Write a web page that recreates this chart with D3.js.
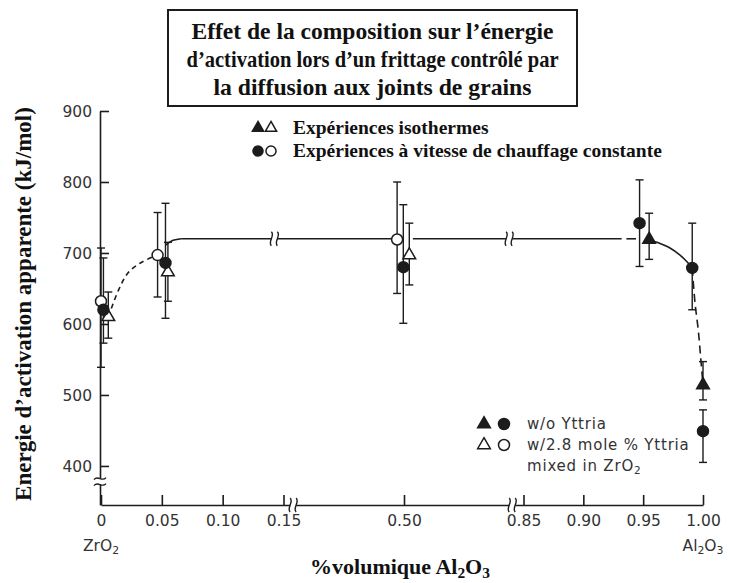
<!DOCTYPE html>
<html>
<head>
<meta charset="utf-8">
<script src="https://cdn.jsdelivr.net/npm/d3@7"></script>
<style>
  body { margin: 0; background: #fff; }
  svg { display: block; }
</style>
</head>
<body>
<svg width="731" height="583"></svg>
<script>
// x positions are fractions of Al2O3, y in kJ/mol
var xTicks = [0, 0.05, 0.10, 0.15, 0.50, 0.85, 0.90, 0.95, 1.00];
var xTickLabels = ["0", "0.05", "0.10", "0.15", "0.50", "0.85", "0.90", "0.95", "1.00"];
var yTicks = [400, 500, 600, 700, 800, 900];

// w/o Yttria, constant heating rate
var filledCircles = [
  {x: 0.002, y: 620, lo: 573, hi: 693},
  {x: 0.053, y: 686, lo: 608, hi: 770},
  {x: 0.498, y: 680, lo: 601, hi: 768},
  {x: 0.947, y: 742, lo: 681, hi: 803},
  {x: 0.991, y: 679, lo: 620, hi: 742},
  {x: 1.000, y: 449, lo: 405, hi: 479}
];
// w/2.8 mole % Yttria, constant heating rate
var openCircles = [
  {x: 0.000, y: 632, lo: 539, hi: 707},
  {x: 0.0465, y: 697, lo: 638, hi: 757},
  {x: 0.480, y: 719, lo: 643, hi: 800}
];
// w/o Yttria, isothermal
var filledTriangles = [
  {x: 0.955, y: 719, lo: 691, hi: 756},
  {x: 1.000, y: 514, lo: 493, hi: 547}
];
// w/2.8 mole % Yttria, isothermal
var openTriangles = [
  {x: 0.006, y: 610, lo: 580, hi: 645},
  {x: 0.055, y: 673, lo: 632, hi: 715},
  {x: 0.5155, y: 697, lo: 655, hi: 742}
];

// guide lines drawn through the points
var dashLeft = [[0.006, 610], [0.0145, 648], [0.0227, 673], [0.0335, 687], [0.046, 697]];
var solidLeft = [[0.053, 711], [0.058, 717], [0.066, 720]];
var plateauLevel = 720;
var plateauSegments = [[0.066, 0.468], [0.526, 0.932]];
var plateauBreaks = [0.1425, 0.808];
var dashShort = [[0.936, 720], [0.944, 720]];
var rightCurve = [[0.955, 719], [0.96, 716], [0.9724, 707], [0.9808, 697], [0.9864, 688], [0.991, 679]];
var rightDrop = [[0.991, 679], [0.9933, 630], [0.996, 592], [0.998, 554], [1.0, 514]];
var axisBreaksX = [0.178, 0.817];
var axisBreakY = 378;

var svg = d3.select("svg");
var ink = "#1c1c1c";

var x = d3.scaleLinear()
    .domain([0, 0.15, 0.50, 0.85, 1.00])
    .range([101, 283.5, 404, 523.5, 703]);
var y = d3.scaleLinear()
    .domain([345, 900])
    .range([505, 111]);

// title box
svg.append("rect")
    .attr("x", 168).attr("y", 10)
    .attr("width", 409).attr("height", 96)
    .attr("fill", "#fff").attr("stroke", ink).attr("stroke-width", 2);

var titleLines = ["Effet de la composition sur l\u2019\u00e9nergie",
                  "d\u2019activation lors d\u2019un frittage contr\u00f4l\u00e9 par",
                  "la diffusion aux joints de grains"];
var titleWidths = [362, 372, 318];
svg.append("g").selectAll("text")
    .data(titleLines)
  .enter().append("text")
    .attr("x", 372.5)
    .attr("y", function(d, i) { return 39 + i * 28; })
    .attr("text-anchor", "middle")
    .attr("textLength", function(d, i) { return titleWidths[i]; })
    .attr("lengthAdjust", "spacingAndGlyphs")
    .style("font-family", "'Liberation Serif', 'Times New Roman', serif")
    .style("font-weight", "bold")
    .style("font-size", "23.5px")
    .style("fill", "#111")
    .text(function(d) { return d; });

// axes
var xAxis = svg.append("g")
    .attr("transform", "translate(0,505)")
    .call(d3.axisBottom(x)
      .tickValues(xTicks)
      .tickFormat(function(d, i) { return xTickLabels[i]; })
      .tickSize(-10).tickSizeOuter(0).tickPadding(10));

var yAxis = svg.append("g")
    .attr("transform", "translate(100,0)")
    .call(d3.axisLeft(y)
      .tickValues(yTicks)
      .tickSize(-9).tickSizeOuter(0).tickPadding(8));

[xAxis, yAxis].forEach(function(g) {
  g.selectAll("path, line").attr("stroke", ink).attr("stroke-width", 1.6);
  g.selectAll("text")
    .style("font-family", "'DejaVu Sans', sans-serif")
    .style("font-size", "15.5px")
    .attr("fill", "#333");
});
yAxis.selectAll("text").attr("dy", "0.36em");

// sub labels under the x axis
function subText(sel, parts) {
  parts.forEach(function(p) {
    sel.append("tspan")
      .attr("baseline-shift", p[1] ? "-25%" : null)
      .style("font-size", p[1] ? "0.7em" : null)
      .text(p[0]);
  });
}
var zr = svg.append("text").attr("x", x(0)).attr("y", 551).attr("text-anchor", "middle")
    .style("font-family", "'DejaVu Sans', sans-serif").style("font-size", "15.5px").attr("fill", "#333");
subText(zr, [["ZrO", 0], ["2", 1]]);
var al = svg.append("text").attr("x", x(1)).attr("y", 551).attr("text-anchor", "middle")
    .style("font-family", "'DejaVu Sans', sans-serif").style("font-size", "15.5px").attr("fill", "#333");
subText(al, [["Al", 0], ["2", 1], ["O", 0], ["3", 1]]);

// axis titles
var xt = svg.append("text")
    .attr("x", 400).attr("y", 574)
    .attr("text-anchor", "middle")
    .style("font-family", "'Liberation Serif', serif")
    .style("font-weight", "bold").style("font-size", "22px").attr("fill", "#111");
subText(xt, [["%volumique Al", 0], ["2", 1], ["O", 0], ["3", 1]]);

svg.append("text")
    .attr("transform", "translate(31,304) rotate(-90)")
    .attr("text-anchor", "middle")
    .style("font-family", "'Liberation Serif', serif")
    .style("font-weight", "bold").style("font-size", "23px").attr("fill", "#111")
    .text("Energie d\u2019activation apparente (kJ/mol)");

// break marks
function hBreak(cx, cy) {
  svg.append("rect").attr("x", cx - 3).attr("y", cy - 3).attr("width", 6).attr("height", 6).attr("fill", "#fff");
  [-3, 3].forEach(function(o) {
    svg.append("path")
      .attr("d", "M" + (cx + o) + "," + (cy - 7) + "C" + (cx + o + 4) + "," + (cy - 3) + " " + (cx + o - 4) + "," + (cy + 3) + " " + (cx + o) + "," + (cy + 7))
      .attr("fill", "none").attr("stroke", ink).attr("stroke-width", 1.4);
  });
}
function vBreak(cx, cy) {
  svg.append("rect").attr("x", cx - 3).attr("y", cy - 3).attr("width", 6).attr("height", 6).attr("fill", "#fff");
  [-3, 3].forEach(function(o) {
    svg.append("path")
      .attr("d", "M" + (cx - 6) + "," + (cy + o + 1) + "C" + (cx - 2) + "," + (cy + o - 4) + " " + (cx + 2) + "," + (cy + o + 4) + " " + (cx + 6) + "," + (cy + o - 1))
      .attr("fill", "none").attr("stroke", ink).attr("stroke-width", 1.4);
  });
}
axisBreaksX.forEach(function(b) { hBreak(x(b), 505); });
vBreak(100, y(axisBreakY));

// guide lines
var line = d3.line()
    .x(function(d) { return x(d[0]); })
    .y(function(d) { return y(d[1]); })
    .curve(d3.curveCatmullRom);

var guides = svg.append("g").attr("fill", "none").attr("stroke", ink).attr("stroke-width", 1.6);
guides.append("path").attr("d", line(dashLeft)).attr("stroke-dasharray", "5,4");
guides.append("path").attr("d", line(solidLeft));
plateauSegments.forEach(function(s) {
  guides.append("path").attr("d", line([[s[0], plateauLevel], [s[1], plateauLevel]]));
});
guides.append("path").attr("d", line(dashShort));
guides.append("path").attr("d", line(rightCurve));
guides.append("path").attr("d", line(rightDrop)).attr("stroke-dasharray", "8,5");
plateauBreaks.forEach(function(b) { hBreak(x(b), y(plateauLevel)); });

// error bars
var allPoints = filledCircles.concat(openCircles, filledTriangles, openTriangles);
var bars = svg.append("g").attr("stroke", ink).attr("stroke-width", 1.4);
allPoints.forEach(function(d) {
  var px = x(d.x);
  bars.append("line").attr("x1", px).attr("x2", px).attr("y1", y(d.lo)).attr("y2", y(d.hi));
  [d.lo, d.hi].forEach(function(v) {
    bars.append("line").attr("x1", px - 4).attr("x2", px + 4).attr("y1", y(v)).attr("y2", y(v));
  });
});

// markers
var circ = d3.symbol().type(d3.symbolCircle).size(95);
var tri = d3.symbol().type(d3.symbolTriangle).size(70);
function markers(data, sym, filled) {
  svg.append("g").selectAll("path")
      .data(data)
    .enter().append("path")
      .attr("d", sym)
      .attr("transform", function(d) { return "translate(" + x(d.x) + "," + y(d.y) + ")"; })
      .attr("fill", filled ? ink : "#fff")
      .attr("stroke", ink)
      .attr("stroke-width", 1.5);
}
markers(openCircles, circ, false);
markers(openTriangles, tri, false);
markers(filledCircles, circ, true);
markers(filledTriangles, tri, true);

// top legend
var legSym = [d3.symbol().type(d3.symbolTriangle).size(55), d3.symbol().type(d3.symbolCircle).size(80)];
var legTop = ["Exp\u00e9riences isothermes", "Exp\u00e9riences \u00e0 vitesse de chauffage constante"];
legTop.forEach(function(t, i) {
  var ly = 128 + i * 23;
  [0, 1].forEach(function(j) {
    svg.append("path").attr("d", legSym[i])
      .attr("transform", "translate(" + (258 + j * 13) + "," + ly + ")")
      .attr("fill", j === 0 ? ink : "#fff").attr("stroke", ink).attr("stroke-width", 1.5);
  });
  svg.append("text").attr("x", 293).attr("y", ly + 6)
    .style("font-family", "'Liberation Serif', serif")
    .style("font-weight", "bold").style("font-size", "19.5px").attr("fill", "#111")
    .text(t);
});

// bottom legend
var legBottom = ["w/o Yttria", "w/2.8 mole % Yttria"];
legBottom.forEach(function(t, i) {
  var ly = 424 + i * 21;
  svg.append("path").attr("d", tri).attr("transform", "translate(484," + ly + ")")
    .attr("fill", i === 0 ? ink : "#fff").attr("stroke", ink).attr("stroke-width", 1.5);
  svg.append("path").attr("d", circ).attr("transform", "translate(504," + ly + ")")
    .attr("fill", i === 0 ? ink : "#fff").attr("stroke", ink).attr("stroke-width", 1.5);
  svg.append("text").attr("x", 527).attr("y", ly + 5)
    .style("font-family", "'DejaVu Sans', sans-serif").style("font-size", "15px")
    .style("letter-spacing", "0.8px").attr("fill", "#333")
    .text(t);
});
var mz = svg.append("text").attr("x", 527).attr("y", 471)
    .style("font-family", "'DejaVu Sans', sans-serif").style("font-size", "15px")
    .style("letter-spacing", "0.8px").attr("fill", "#333");
subText(mz, [["mixed  in  ZrO", 0], ["2", 1]]);
</script>
</body>
</html>
